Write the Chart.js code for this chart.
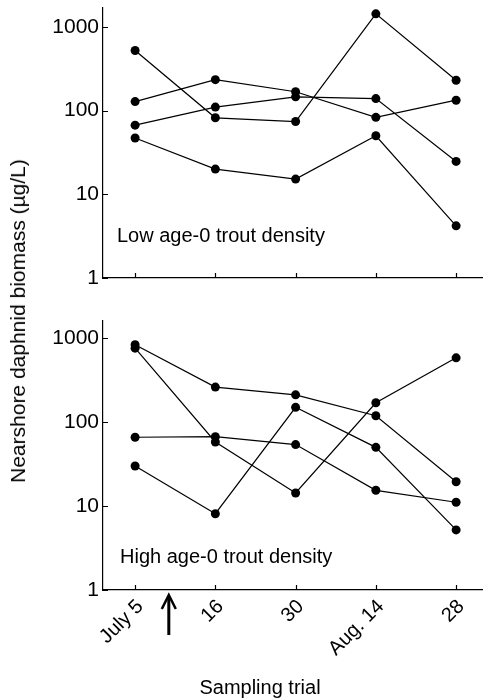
<!DOCTYPE html>
<html lang="en">
<head>
    <meta charset="UTF-8">
    <title>Nearshore daphnid biomass</title>
    <script src="https://cdn.jsdelivr.net/npm/chart.js@4"></script>
    <style>
body {
    margin: 0;
    background: #fff;
    font-family: "Liberation Sans", Arial, sans-serif;
}
#page {
    position: relative;
    width: 483px;
    height: 700px;
    overflow: hidden;
}
.panel {
    position: absolute;
    left: 0;
    width: 483px;
}
#yTitle {
    position: absolute;
    left: 18px;
    top: 321px;
    transform: translate(-50%, -50%) rotate(-90deg);
    white-space: nowrap;
    font-size: 21px;
    color: #000;
}
#xTitle {
    position: absolute;
    left: 260px;
    top: 687px;
    transform: translate(-50%, -50%);
    white-space: nowrap;
    font-size: 20px;
    color: #000;
}
    </style>
</head>
<body>
<div id="page">
    <div class="panel" style="top:0;height:290px;"><canvas id="lowChart"></canvas></div>
    <div class="panel" style="top:300px;height:400px;"><canvas id="highChart"></canvas></div>
    <div id="yTitle">Nearshore daphnid biomass (µg/L)</div>
    <div id="xTitle">Sampling trial</div>
</div>
<script>
const trials = ['July 5', '16', '30', 'Aug. 14', '28'];
const yTicks = [1, 10, 100, 1000];

// low age-0 trout density lakes
const low1 = [522, 82, 74, 1430, 230];
const low2 = [128, 234, 168, 83, 133];
const low3 = [67, 110, 146, 139, 24.7];
const low4 = [47, 20, 15.2, 50, 4.2];

// high age-0 trout density lakes
const high1 = [833, 261, 211, 119, 19.5];
const high2 = [760, 58, 14.3, 170, 583];
const high3 = [66, 67, 54, 15.4, 11.1];
const high4 = [30, 8.1, 150, 50, 5.2];

// fish stocking, between July 5 and 16
const arrowAt = 0.42;

Chart.defaults.font.family = '"Liberation Sans", Arial, sans-serif';
Chart.defaults.color = '#000';

function toSeries(vals) {
    return {
        data: vals.map((v, i) => ({x: i, y: v})),
        borderColor: '#000',
        borderWidth: 1.2,
        pointRadius: 4.5,
        pointBorderWidth: 0,
        pointBackgroundColor: '#000',
        pointHoverRadius: 4.5,
        tension: 0,
        clip: false
    };
}

// ticks pointing into the plot + panel label + stocking arrow
const extras = {
    id: 'extras',
    afterDraw(chart, args, opts) {
        const ctx = chart.ctx;
        const area = chart.chartArea;
        const xs = chart.scales.x, ys = chart.scales.y;
        ctx.save();
        ctx.strokeStyle = '#000';
        ctx.lineWidth = 1.2;
        ctx.beginPath();
        xs.ticks.forEach(t => {
            const px = Math.round(xs.getPixelForValue(t.value)) + 0.5;
            ctx.moveTo(px, area.bottom);
            ctx.lineTo(px, area.bottom - 5);
        });
        ys.ticks.forEach(t => {
            const py = Math.round(ys.getPixelForValue(t.value)) + 0.5;
            ctx.moveTo(area.left, py);
            ctx.lineTo(area.left + 5, py);
        });
        ctx.stroke();

        ctx.fillStyle = '#000';
        ctx.font = '20px "Liberation Sans", Arial, sans-serif';
        ctx.textBaseline = 'alphabetic';
        ctx.fillText(opts.text, area.left + opts.dx, area.bottom - opts.dy);

        if (opts.arrow) {
            const ax = xs.getPixelForValue(arrowAt);
            const top = area.bottom + 5;
            ctx.lineWidth = 3;
            ctx.beginPath();
            ctx.moveTo(ax, top + 2);
            ctx.lineTo(ax, top + 40);
            ctx.stroke();
            ctx.lineWidth = 2.5;
            ctx.beginPath();
            ctx.moveTo(ax - 7, top + 14);
            ctx.lineTo(ax, top);
            ctx.lineTo(ax + 7, top + 14);
            ctx.stroke();
        }
        ctx.restore();
    }
};

function noPad(s) {
    s.paddingTop = 0;
    s.paddingBottom = 0;
    s.paddingLeft = 0;
    s.paddingRight = 0;
}

function makeChart(canvasId, series, o) {
    return new Chart(document.getElementById(canvasId), {
        type: 'line',
        data: { datasets: series.map(toSeries) },
        options: {
            responsive: true,
            maintainAspectRatio: false,
            animation: false,
            layout: {
                autoPadding: false,
                padding: { top: o.padTop, right: 0, left: 0, bottom: 0 }
            },
            plugins: {
                legend: { display: false },
                tooltip: { enabled: false },
                extras: { text: o.label, dx: o.labelDx, dy: o.labelDy, arrow: o.arrow }
            },
            scales: {
                x: {
                    type: 'linear',
                    min: -0.4,
                    max: 4.335,
                    grid: { display: false, drawTicks: false },
                    border: { display: true, color: '#000', width: 1.2 },
                    afterBuildTicks: s => { s.ticks = trials.map((t, i) => ({value: i})); },
                    afterFit: s => { s.height = o.xHeight; noPad(s); },
                    ticks: {
                        display: o.showX,
                        autoSkip: false,
                        minRotation: 45,
                        maxRotation: 45,
                        padding: 5,
                        labelOffset: 5,
                        font: { size: 20 },
                        callback: v => trials[v]
                    }
                },
                y: {
                    type: 'logarithmic',
                    min: 1,
                    max: o.yMax,
                    grid: { display: false, drawTicks: false },
                    border: { display: true, color: '#000', width: 1.2 },
                    afterBuildTicks: s => { s.ticks = yTicks.map(v => ({value: v})); },
                    afterFit: s => { s.width = 103; noPad(s); },
                    ticks: {
                        padding: 4,
                        font: { size: 21 },
                        callback: v => String(v)
                    }
                }
            }
        },
        plugins: [extras]
    });
}

makeChart('lowChart', [low1, low2, low3, low4], {
    padTop: 8, xHeight: 12, showX: false, yMax: 1680,
    label: 'Low age-0 trout density', labelDx: 14, labelDy: 36, arrow: false
});
makeChart('highChart', [high1, high2, high3, high4], {
    padTop: 21, xHeight: 110, showX: true, yMax: 1600,
    label: 'High age-0 trout density', labelDx: 17, labelDy: 27, arrow: true
});
</script>
</body>
</html>
